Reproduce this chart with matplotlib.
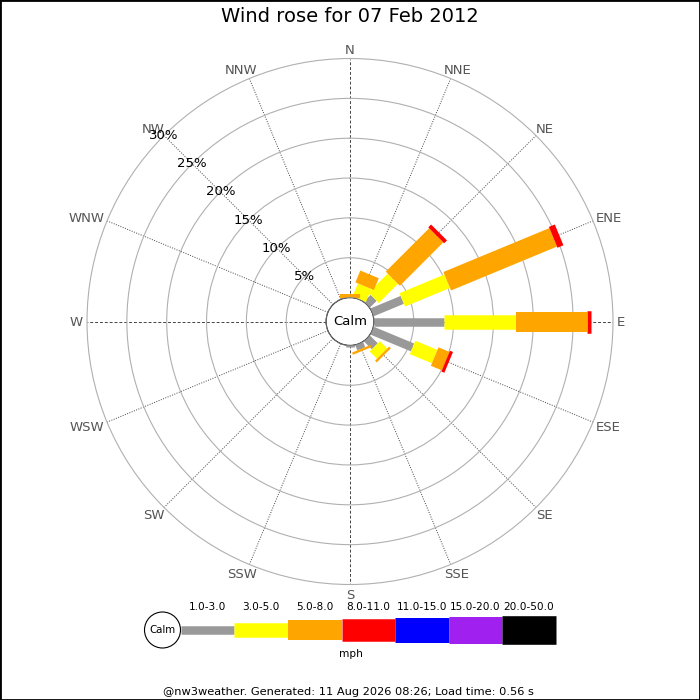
import numpy as np
import matplotlib
matplotlib.use("Agg")
import matplotlib.pyplot as plt
from matplotlib.patches import Circle, Rectangle
from matplotlib.textpath import TextPath
from matplotlib.font_manager import FontProperties

# data (percent of time per direction and speed class)
directions = ["N", "NNE", "NE", "ENE", "E", "ESE", "SE", "SSE",
              "S", "SSW", "SW", "WSW", "W", "WNW", "NW", "NNW"]
speed_classes = ["1.0-3.0", "3.0-5.0", "5.0-8.0", "8.0-11.0",
                 "11.0-15.0", "15.0-20.0", "20.0-50.0"]
class_colors = ["#999999", "#ffff00", "#ffa500", "#ff0000",
                "#0000ff", "#a020f0", "#000000"]
spd_1_3 = [0, 0, 1.2, 4.1, 8.8, 5.5, 1.4, 0.7, 0.2, 0, 0, 0, 0, 0, 0, 0]
spd_3_5 = [0, 1.8, 3.4, 6.1, 9.0, 3.0, 1.3, 0, 0, 0, 0, 0, 0, 0, 0, 0]
spd_5_8 = [0.4, 1.6, 7.7, 14.4, 8.9, 1.5, 0.3, 0.3, 0, 0, 0, 0, 0, 0, 0, 0]
spd_8_11 = [0, 0, 0.5, 0.8, 0.5, 0.4, 0, 0, 0, 0, 0, 0, 0, 0, 0, 0]
spd_11_15 = [0] * 16
spd_15_20 = [0] * 16
spd_20_50 = [0] * 16
ring_ticks = [5, 10, 15, 20, 25, 30]

title = "Wind rose for 07 Feb 2012"
footer = "@nw3weather. Generated: 11 Aug 2026 08:26; Load time: 0.56 s"

series = [spd_1_3, spd_3_5, spd_5_8, spd_8_11, spd_11_15, spd_15_20, spd_20_50]
bar_px = [8.5, 14.5, 20, 22.5, 25, 27, 28.6]
bar_lw = [p * 72 / 100 for p in bar_px]

fig = plt.figure(figsize=(7, 7), dpi=100)
ax = fig.add_axes([0.1243, 0.165, 0.7514, 0.7514], projection="polar")
ax.set_theta_zero_location("N")
ax.set_theta_direction(-1)
ax.set_ylim(0, 30)
ax.set_rorigin(-3)

ax.set_xticks([])
ax.set_rgrids(ring_ticks[:-1], labels=[""] * 5)
ax.yaxis.grid(True, color="#b0b0b0", lw=0.8, ls="-")
ax.spines["polar"].set_color("#b0b0b0")
ax.spines["polar"].set_linewidth(0.8)
ax.spines["inner"].set_visible(False)

thetas = np.deg2rad(np.arange(16) * 22.5)
dir_fs = 9.5
cap = 0.729 * dir_fs
gap = 3.6
fp = FontProperties(family="DejaVu Sans", size=dir_fs)
for i, th in enumerate(thetas):
    ls = (0, (3, 2)) if i % 4 == 0 else (0, (1, 1.5))
    ax.plot([th, th], [0, 30], color="#444444", lw=0.7, ls=ls, zorder=1)
    # label box sits just outside the ring, shifted by its own half size
    w = TextPath((0, 0), directions[i], prop=fp).get_extents().width
    sx, cy = np.sin(th), np.cos(th)
    dx = sx * (gap + w / 2)
    dy = cy * (gap + cap / 2) - cap / 2
    ax.annotate(directions[i], xy=(th, 30), xytext=(dx, dy),
                textcoords="offset points", ha="center", va="baseline",
                fontsize=dir_fs, color="#555555", annotation_clip=False)

# stacked bars
cum = np.zeros(16)
for k, vals in enumerate(series):
    vals = np.array(vals, dtype=float)
    for i, th in enumerate(thetas):
        if vals[i] > 0:
            ax.plot([th, th], [cum[i], cum[i] + vals[i]], color=class_colors[k],
                    lw=bar_lw[k], solid_capstyle="butt", zorder=3 + k)
    cum += vals

# calm circle
ax.add_patch(Circle((0.5, 0.5), 0.5 * 3 / 33, transform=ax.transAxes,
                    fc="white", ec="#888888", lw=0.8, zorder=20))
ax.text(0.5, 0.5, "Calm", transform=ax.transAxes, ha="center", va="center",
        fontsize=9.5, zorder=21)

# ring labels along NW
for r in ring_ticks:
    ax.text(np.deg2rad(315), r, f"{r}%", ha="center", va="center",
            fontsize=9.5, color="black", zorder=22, clip_on=False)

fig.text(0.5, 1 - 17 / 700, title, ha="center", va="center", fontsize=14)

# legend in pixel coordinates
lg = fig.add_axes([0, 0, 1, 1])
lg.set_xlim(0, 700)
lg.set_ylim(700, 0)
lg.axis("off")
lg.add_patch(Circle((162.5, 630), 18, fc="white", ec="black", lw=0.8))
lg.text(162.5, 630, "Calm", ha="center", va="center", fontsize=7.4)
x0 = 180.7
seg = 53.6
for k, name in enumerate(speed_classes):
    xa = x0 + k * seg
    lg.plot([xa, xa + seg], [630, 630], color=class_colors[k], lw=bar_lw[k],
            solid_capstyle="butt")
    lg.text(xa + seg / 2, 607, name, ha="center", va="center", fontsize=7.6)
lg.text(350.5, 654, "mph", ha="center", va="center", fontsize=7.6)
lg.text(348, 692, footer, ha="center", va="center", fontsize=8.2)

fig.add_artist(Rectangle((0, 0), 1, 1, transform=fig.transFigure, fill=False,
                         ec="black", lw=2))

fig.savefig("out.png", dpi=100)
